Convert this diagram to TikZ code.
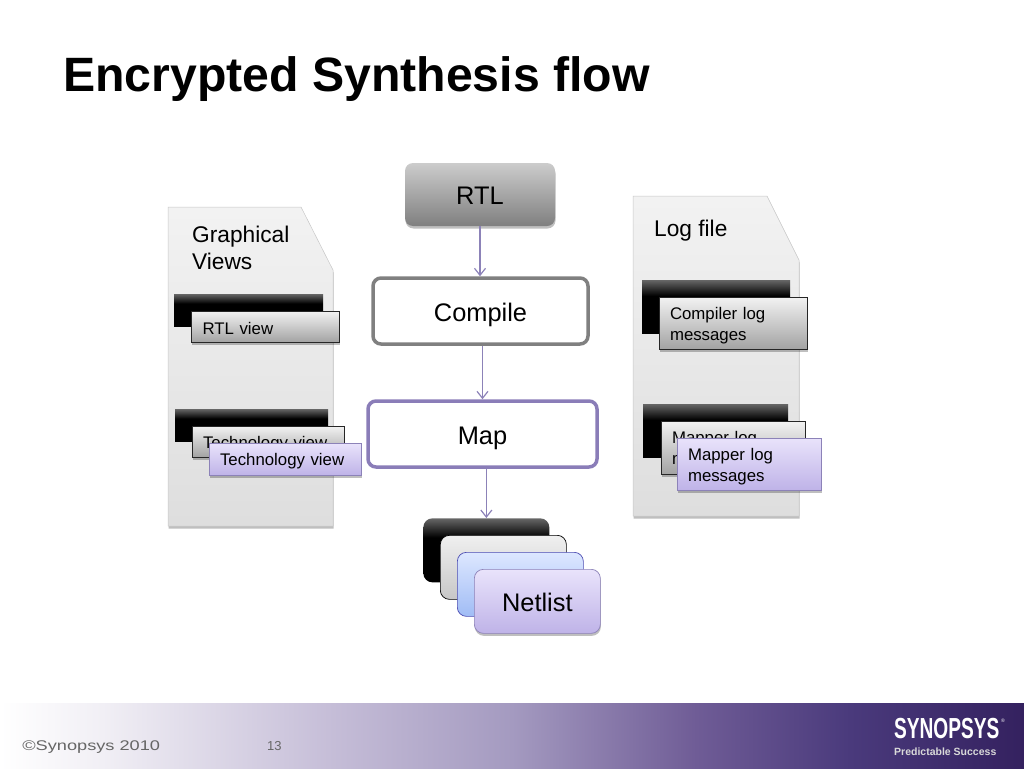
\documentclass[tikz,border=0pt]{standalone}
\usepackage{fontspec}
\setmainfont{Liberation Sans}
\usepackage{tikz}
\usetikzlibrary{arrows.meta,shadows}
\definecolor{flowpurple}{HTML}{8C82B8}
\definecolor{mappurple}{HTML}{8A7DB8}
\definecolor{lilactop}{HTML}{E9E3FB}
\definecolor{lilacbot}{HTML}{BFB3E8}
\definecolor{bluetop}{HTML}{DDE7FF}
\definecolor{bluebot}{HTML}{A0BCF5}
\definecolor{foota}{HTML}{F1EFF5}
\definecolor{footb}{HTML}{C6BED8}
\definecolor{footc}{HTML}{A49AC0}
\definecolor{footd}{HTML}{6F5C96}
\definecolor{foote}{HTML}{4A3A7C}
\definecolor{footf}{HTML}{34215F}
\pgfdeclareverticalshading{blackfade}{100bp}{color(0bp)=(black); color(60bp)=(black); color(75bp)=(black!60); color(100bp)=(black!60)}
\pgfdeclarehorizontalshading{footerfade}{100bp}{color(0bp)=(white); color(25bp)=(white); color(30bp)=(foota); color(41bp)=(footb); color(50bp)=(footc); color(59bp)=(footd); color(66.5bp)=(foote); color(75bp)=(footf); color(100bp)=(footf)}

\begin{document}
\begin{tikzpicture}[x=1pt,y=-1pt]
\tikzstyle{flowline}=[draw=flowpurple,line width=1.2pt,-{Straight Barb[length=7pt,width=11pt]}]
\tikzstyle{softshadow}=[drop shadow={shadow xshift=0.5pt,shadow yshift=-2.5pt,opacity=0.25,fill=black}]
\tikzstyle{page}=[top color=black!5,bottom color=black!13,draw=black!22,line width=0.5pt,softshadow]
\tikzstyle{viewback}=[shading=blackfade,inner sep=0pt,outer sep=0pt]
\tikzstyle{viewbox}=[draw=black!85,line width=0.7pt,align=left,anchor=north west,inner ysep=0pt,inner xsep=11pt,outer sep=0pt,font=\fontsize{16.8}{21}\selectfont,execute at begin node=\rule{0pt}{17pt},softshadow]
\tikzstyle{grayview}=[viewbox,top color=black!5,bottom color=black!36]
\tikzstyle{purpleview}=[viewbox,draw=flowpurple,top color=lilactop,bottom color=lilacbot]
\tikzstyle{flowbox}=[rounded corners=8pt,align=center,inner sep=0pt,text height=20pt,text depth=0pt,font=\fontsize{25.4}{28}\selectfont]
\tikzstyle{stackbox}=[rounded corners=9pt,minimum width=126pt,minimum height=64pt,inner sep=0pt,anchor=north west,line width=0.7pt,text height=20pt,text depth=0pt,font=\fontsize{25.4}{28}\selectfont]
\useasboundingbox (0,0) rectangle (1024,768);

\node[anchor=base west,inner sep=0pt,font=\fontsize{48.2}{50}\selectfont\bfseries] (title) at (63,91) {Encrypted Synthesis flow};

% left page
\path[page] (168,207) -- (301,207) -- (333,270) -- (333,526) -- (168,526) -- cycle;
\node[anchor=north west,inner sep=0pt,align=left,font=\fontsize{22.7}{27}\selectfont] (graph) at (192,226) {Graphical\\Views};
\node[viewback,anchor=north west,minimum width=149pt,minimum height=32pt] (rtlback) at (174,294) {};
\node[grayview,minimum height=31pt,text width=126pt] (rtlview) at (191.5,311) {RTL view};
\node[viewback,anchor=north west,minimum width=153pt,minimum height=32pt] (techback) at (175,409) {};
\node[grayview,minimum height=31pt,text width=130pt] (techgray) at (192,426) {Technology view};
\node[purpleview,minimum height=32pt,text width=130pt] (techview) at (209,443) {Technology view};

% right page
\path[page] (633,196) -- (767,196) -- (799,260) -- (799,516) -- (633,516) -- cycle;
\node[anchor=base west,inner sep=0pt,font=\fontsize{22.7}{27}\selectfont] (logfile) at (654,236) {Log file};
\node[viewback,anchor=north west,minimum width=148pt,minimum height=53pt] (compback) at (642,280) {};
\node[grayview,minimum height=52pt,text width=126pt] (complog) at (659,297) {Compiler log\\messages};
\node[viewback,anchor=north west,minimum width=145pt,minimum height=53pt] (mapback) at (643,404) {};
\node[grayview,minimum height=53pt,text width=122pt] (mapgray) at (661,421) {Mapper log\\messages};
\node[purpleview,minimum height=52pt,text width=122pt] (maplog) at (677,438) {Mapper log\\messages};

% flow
\node[flowbox,minimum width=150pt,minimum height=63pt,top color=black!20,bottom color=black!50,softshadow] (rtl) at (480,194.5) {RTL};
\node[flowbox,minimum width=215pt,minimum height=66pt,draw=black!50,line width=3.5pt,fill=white] (compile) at (480.5,311) {Compile};
\node[flowbox,minimum width=229pt,minimum height=66pt,draw=mappurple,line width=3.5pt,fill=white] (map) at (482.5,434) {Map};

\node[stackbox,shading=blackfade] (net1) at (423,518) {};
\node[stackbox,draw=black,top color=black!6,bottom color=black!22] (net2) at (440,535) {};
\node[stackbox,draw=blue!40!gray,top color=bluetop,bottom color=bluebot] (net3) at (457,552) {};
\node[stackbox,draw=flowpurple,top color=lilactop,bottom color=lilacbot,softshadow] (netlist) at (474,569) {Netlist};

\draw[flowline] (rtl.south) -- (rtl.south |- compile.north);
\draw[flowline] (compile.south -| map.north) -- (map.north);
\draw[flowline] (map.south -| net1.north) -- (net1.north);

% footer
\path[shading=footerfade] (0,703) rectangle (1024,768);
\node[anchor=base west,inner sep=0pt,text=black!60,xscale=1.3,font=\fontsize{14}{16}\selectfont] (copy) at (22,750) {©Synopsys 2010};
\node[anchor=base west,inner sep=0pt,text=black!60,font=\fontsize{13}{16}\selectfont] (pageno) at (267,750) {13};
\node[anchor=base west,inner sep=0pt,text=white,xscale=0.66,font=\fontsize{29}{30}\selectfont\bfseries] (logo) at (894,738) {SYNOPSYS};
\node[anchor=base west,inner sep=0pt,text=white,font=\fontsize{5}{6}\selectfont] (reg) at (1001,722) {®};
\node[anchor=base west,inner sep=0pt,text=white!85!black,font=\fontsize{10.5}{12}\selectfont\bfseries] (slogan) at (894,755) {Predictable Success};
\end{tikzpicture}
\end{document}
